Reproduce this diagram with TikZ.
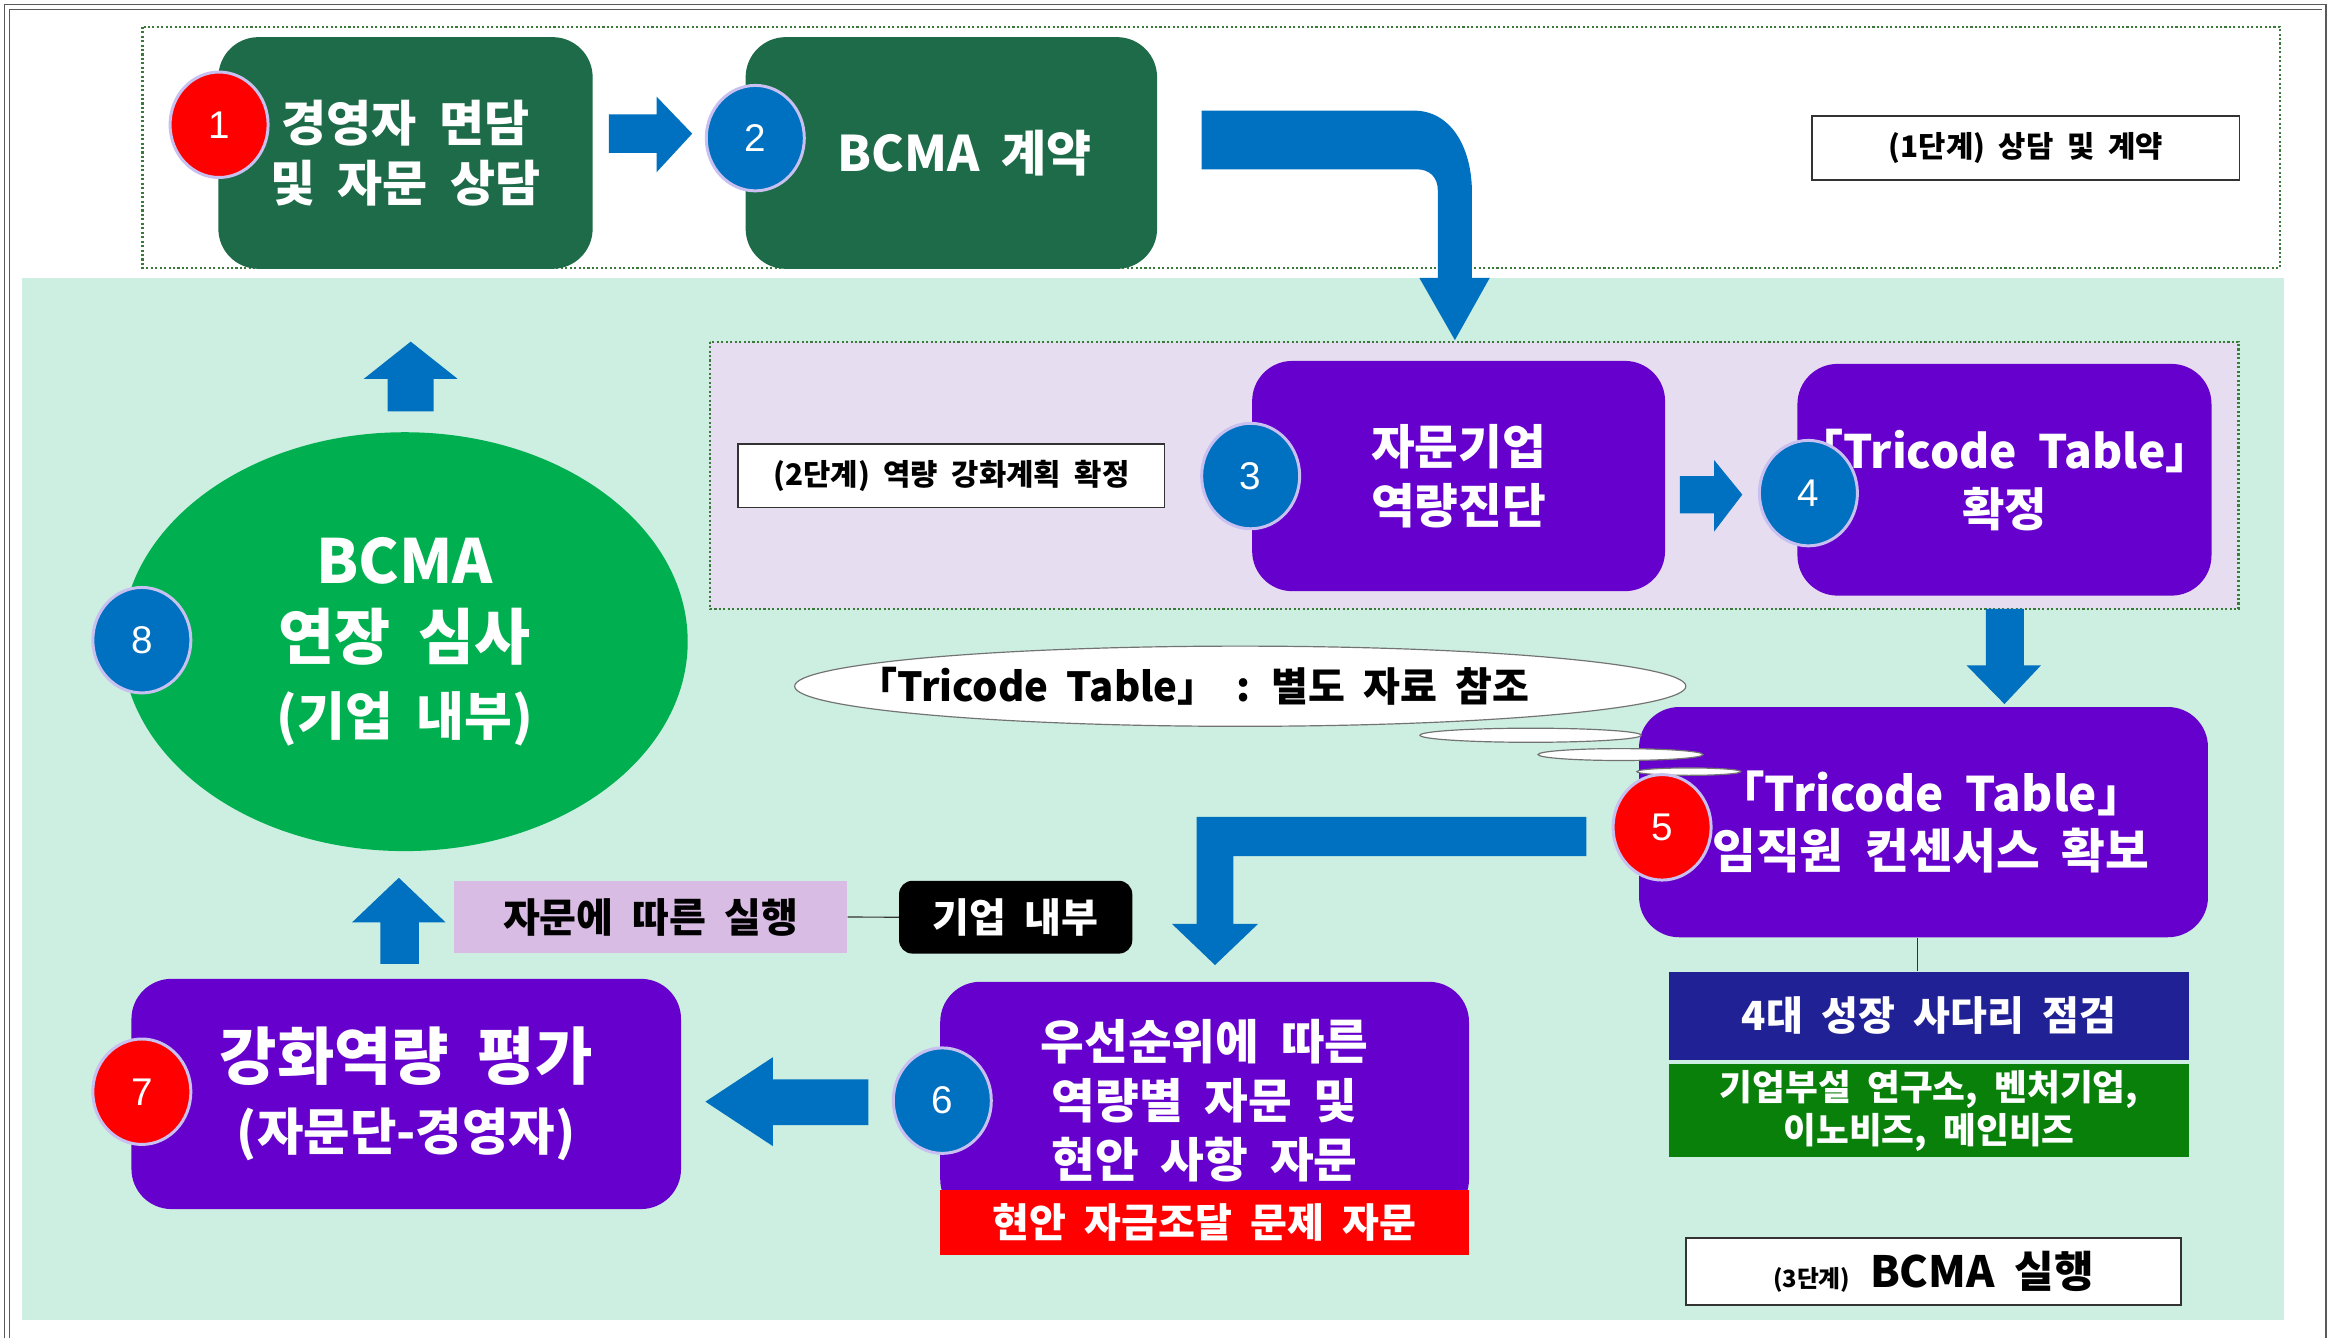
\documentclass[tikz,border=0pt]{standalone}
\usepackage{fontspec}
\setmainfont{Noto Sans CJK KR}[WordSpace=2]
\newfontfamily\numfont{Liberation Sans}
\usetikzlibrary{shapes.geometric}
\definecolor{dgreen}{HTML}{1D6B48}
\definecolor{purp}{HTML}{6600CC}
\definecolor{cblue}{HTML}{0070C0}
\definecolor{cred}{HTML}{FF0000}
\definecolor{mint}{HTML}{CCEFE1}
\definecolor{lav}{HTML}{E7DDF0}
\definecolor{lavtwo}{HTML}{D9BCE3}
\definecolor{egreen}{HTML}{00B050}
\definecolor{navyb}{HTML}{212196}
\definecolor{bgreen}{HTML}{08800A}
\definecolor{dotgreen}{HTML}{3C7A3C}
\definecolor{ring}{HTML}{C8C0F0}
\begin{document}
\begin{tikzpicture}[x=1pt,y=-1pt,
  every node/.style={inner sep=0pt, align=center},
  fz/.style n args={2}{font=\bfseries\fontsize{#1}{#2}\selectfont},
  rbox/.style={rounded corners=27pt, text=white},
  num/.style={ellipse, minimum width=66pt, minimum height=71pt, draw=ring, line width=2pt, text=white, font=\numfont\fontsize{26}{26}\selectfont},
  lbl/.style={draw=black!80, line width=1pt, fill=white, text=black},
  dotbox/.style={draw=dotgreen, line width=1.5pt, dash pattern=on 1.4pt off 1.6pt},
  barrow/.style={fill=cblue},
  bubble/.style={ellipse, draw=black!55, line width=0.8pt, fill=white}]
\useasboundingbox (0,0) rectangle (1568,901);
\fill[white] (0,0) rectangle (1568,901);
% frame
\draw[black!65, line width=0.8pt] (3,901) -- (3,3) -- (1566,3) -- (1566,901);
\draw[black!65, line width=0.8pt] (6.5,901) -- (6.5,6.5) -- (1563,6.5);
% backgrounds
\fill[mint] (15,187) rectangle (1538,888.7);
\draw[dotbox] (96,18) rectangle (1535,180.5);
\draw[dotbox, fill=lav] (478,230) rectangle (1507,410);

% stage labels
\node[lbl, minimum width=288pt, minimum height=43pt, fz={20}{24}] (s1) at (1363.8,99.6) {(1단계) 상담 및 계약};
\node[lbl, minimum width=287pt, minimum height=43pt, fz={20}{24}] (s2) at (640.5,320.3) {(2단계) 역량 강화계획 확정};
\node[lbl, minimum width=333pt, minimum height=45pt, fz={29}{30}] (s3) at (1301.7,856) {{\fontsize{16}{18}\selectfont (3단계)} BCMA 실행};

% main boxes
\node[rbox, fill=dgreen, minimum width=252pt, minimum height=156pt, fz={33}{40}] (n1) at (273,103) {경영자 면담\\및 자문 상담};
\node[rbox, fill=dgreen, minimum width=277pt, minimum height=156pt, fz={33}{40}] (n2) at (640.5,103) {\hspace*{18pt}BCMA 계약};
\node[rbox, fill=purp, minimum width=278pt, minimum height=155pt, fz={32}{40}] (n3) at (982,320.5) {자문기업\\역량진단};
\node[rbox, fill=purp, minimum width=277pt, minimum height=156pt, fz={31}{39}] (n4) at (1349.5,323) {「Tricode Table」\\확정};
\node[rbox, fill=purp, minimum width=383pt, minimum height=155pt, fz={32}{38}] (n5) at (1295,553.5) {\hspace*{10pt}「Tricode Table」\\\hspace*{10pt}임직원 컨센서스 확보};
\node[rbox, fill=purp, minimum width=356pt, minimum height=160pt, fz={32}{40}] (n6) at (811,741) {우선순위에 따른\\역량별 자문 및\\현안 사항 자문};
\node[fill=cred, text=white, minimum width=356pt, minimum height=44pt, fz={27}{28}] (r6) at (811,823) {현안 자금조달 문제 자문};
\node[rbox, fill=purp, minimum width=370pt, minimum height=155pt, fz={42}{48}] (n7) at (273.5,736.5) {강화역량 평가\\{\fontsize{34}{40}\selectfont (자문단-경영자)}};
\node[ellipse, fill=egreen, text=white, minimum width=381pt, minimum height=282pt, fz={41}{51}] (n8) at (272.5,432) {BCMA\\연장 심사\\{\fontsize{35}{40}\selectfont (기업 내부)}};

% side boxes
\node[fill=navyb, text=white, minimum width=350pt, minimum height=59.5pt, fz={27}{30}] (g1) at (1298.7,684) {4대 성장 사다리 점검};
\node[fill=bgreen, text=white, minimum width=350pt, minimum height=62.5pt, fz={24}{29}] (g2) at (1298.7,747.8) {기업부설 연구소, 벤처기업,\\이노비즈, 메인비즈};
\draw[black!80, line width=0.8pt] (n5.south -| 1290.7,0) -- (g1.north -| 1290.7,0);

\node[fill=lavtwo, text=black, minimum width=265pt, minimum height=48.5pt, fz={27}{28}] (ex) at (438,617.4) {자문에 따른 실행};
\node[fill=black, text=white, rounded corners=9pt, minimum width=157pt, minimum height=49pt, fz={27}{28}] (in) at (683.8,617.5) {기업 내부};
\draw[black!80, line width=0.8pt] (ex.east) -- (in.west);

% callout
\node[bubble, minimum width=600pt, minimum height=54pt] (cl) at (835,462) {};
\node[fz={27}{30}, text=black] (clt) at (803.5,462) {「Tricode Table」 : 별도 자료 참조};
\node[bubble, minimum width=149pt, minimum height=9.5pt] (b1) at (1030.5,495) {};
\node[bubble, minimum width=111pt, minimum height=8pt] (b2) at (1091,508) {};
\node[bubble, minimum width=70pt, minimum height=5pt] (b3) at (1137,519.5) {};

% block arrows
\fill[barrow] (410,77) -- (442,77) -- (442,65) -- (466,90) -- (442,116) -- (442,103) -- (410,103) -- cycle;
\fill[barrow] (809,74.5) -- (952,74.5) .. controls (976,74.5) and (991,98) .. (991,130) -- (991,187) -- (1003,187) -- (979.5,229) -- (955.5,187) -- (968,187) -- (968,128) .. controls (968,119) and (962,114) .. (954,114) -- (809,114) -- cycle;
\fill[barrow] (1131,320.5) -- (1154,320.5) -- (1154,309.7) -- (1173,333) -- (1154,357.9) -- (1154,345.7) -- (1131,345.7) -- cycle;
\fill[barrow] (1337,410) -- (1362.6,410) -- (1362.6,448) -- (1374,448) -- (1349.5,474) -- (1324,448) -- (1337,448) -- cycle;
\fill[barrow] (1068,550) -- (1068,576.4) -- (830.3,576.4) -- (830.3,622) -- (847,622) -- (818,649.7) -- (789,622) -- (805.7,622) -- (805.7,550) -- cycle;
\fill[barrow] (584.7,726.7) -- (520.3,726.7) -- (520.3,711.8) -- (474.9,741.7) -- (520.3,771.6) -- (520.3,757.4) -- (584.7,757.4) -- cycle;
\fill[barrow] (256,649) -- (256,621) -- (237,621) -- (268.5,591) -- (300,621) -- (282,621) -- (282,649) -- cycle;
\fill[barrow] (261,277) -- (261,255) -- (245,255) -- (276.5,230) -- (308,255) -- (292,255) -- (292,277) -- cycle;

% number circles
\node[num, fill=cred] (c1) at (147.5,84) {1};
\node[num, fill=cblue] (c2) at (508.5,93) {2};
\node[num, fill=cblue] (c3) at (842,320.5) {3};
\node[num, fill=cblue] (c4) at (1217.5,332) {4};
\node[num, fill=cred] (c5) at (1119,557) {5};
\node[num, fill=cblue] (c6) at (634.4,741) {6};
\node[num, fill=cred] (c7) at (95.5,735) {7};
\node[num, fill=cblue] (c8) at (95.5,431) {8};
\end{tikzpicture}
\end{document}
